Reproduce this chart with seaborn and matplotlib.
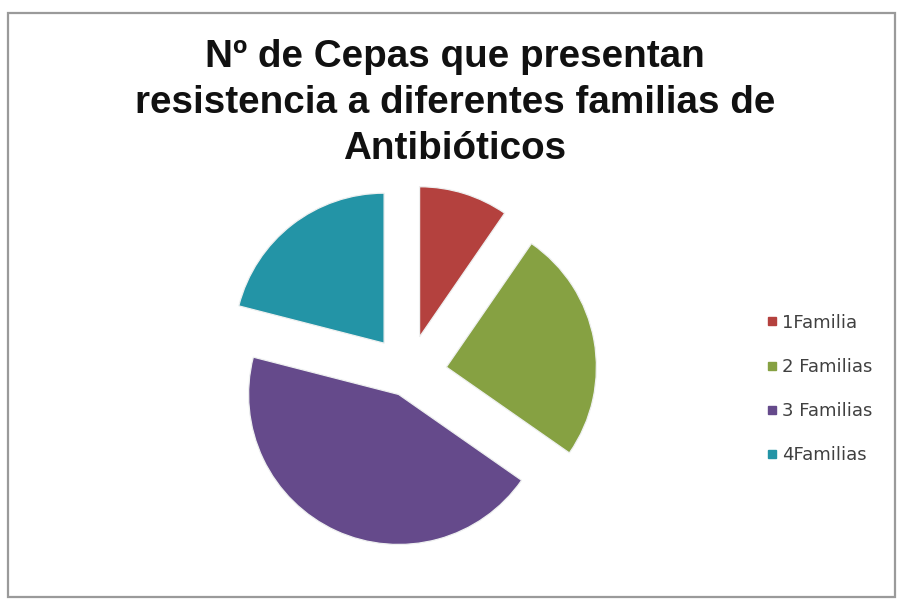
import matplotlib
matplotlib.use("Agg")
import matplotlib.pyplot as plt
import matplotlib.patches as mpatches
from matplotlib.lines import Line2D
import seaborn as sns

# Share of strains by number of antibiotic families they resist (%)
categories = ["1Familia", "2 Familias", "3 Familias", "4Familias"]
shares = [9.6, 25.1, 44.3, 21.0]
slice_colors = ["#B4413E", "#86A142", "#654A8B", "#2394A6"]
title_text = "Nº de Cepas que presentan\nresistencia a diferentes familias de\nAntibióticos"

sns.set_theme(style="white")
plt.rcParams["font.family"] = ["Liberation Sans", "DejaVu Sans"]
palette = sns.color_palette(slice_colors)

W, H = 899, 601
fig = plt.figure(figsize=(W / 100, H / 100), dpi=100)
fig.patch.set_facecolor("white")

# chart area frame
frame = mpatches.Rectangle((8 / W, 4 / H), 887 / W, 584 / H, transform=fig.transFigure,
                           fill=False, edgecolor="#9a9a9a", linewidth=1.6)
fig.add_artist(frame)

# square axes so that radius 1 = 150 px, centred at (408, 374) from top-left
cx, cy, half = 408, H - 374, 225
ax = fig.add_axes([(cx - half) / W, (cy - half) / H, 2 * half / W, 2 * half / H])
wedges, _ = ax.pie(shares, colors=palette, startangle=90, counterclock=False,
                   explode=[0.26, 0.26, 0.15, 0.26], radius=1.0,
                   wedgeprops=dict(edgecolor="#eef0f0", linewidth=0.9))
ax.set_xlim(-1.5, 1.5)
ax.set_ylim(-1.5, 1.5)
ax.set_aspect("equal")
ax.axis("off")

fig.text(455 / W, 1 - 103 / H, title_text, ha="center", va="center",
         fontsize=27.8, fontweight="bold", color="#111111", linespacing=1.36)

handles = [Line2D([0], [0], marker="s", linestyle="none", markersize=6,
                  markerfacecolor=c, markeredgecolor=c) for c in palette]
fig.legend(handles, categories, loc="center left",
           bbox_to_anchor=(757 / W, 1 - 389 / H), frameon=False,
           prop={"family": "DejaVu Sans", "size": 13}, labelcolor="#404040",
           handlelength=0.7, handletextpad=0.2, labelspacing=1.45, borderpad=0)

fig.savefig("out.png", dpi=100, facecolor="white")
